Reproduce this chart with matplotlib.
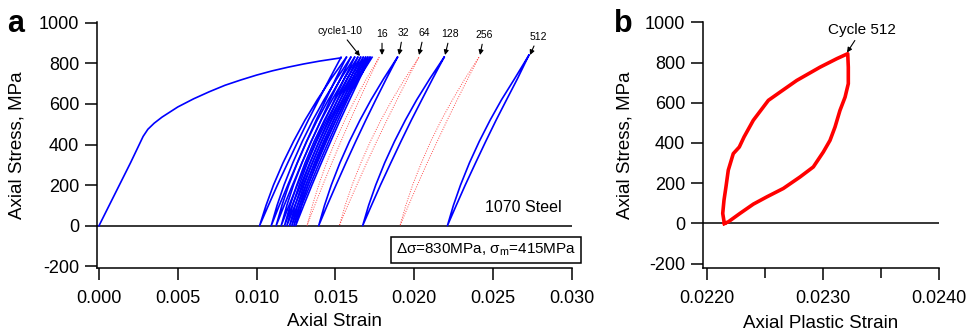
import matplotlib
matplotlib.use("Agg")
import matplotlib.pyplot as plt

plt.rcParams['font.family'] = ['Liberation Sans', 'DejaVu Sans']
plt.rcParams['mathtext.fontset'] = 'custom'
plt.rcParams['mathtext.rm'] = 'Liberation Sans'
plt.rcParams['mathtext.it'] = 'Liberation Sans:italic'
plt.rcParams['axes.unicode_minus'] = False

# ---- panel a data ----
# monotonic first loading
mono_strain = [0.0, 0.0010, 0.0020, 0.0028, 0.0031, 0.0035, 0.0040, 0.0050, 0.0060, 0.0070,
               0.0080, 0.0090, 0.0100, 0.0110, 0.0120, 0.0130, 0.0140, 0.01536]
mono_stress = [0, 155, 310, 440, 475, 505, 535, 585, 625, 660,
               692, 718, 742, 763, 781, 797, 811, 827]

# every loop: unload from peak down to zero, reload back to peak
loop_stress = [830, 725, 620, 520, 415, 310, 200, 100, 0, 100, 200, 310, 415, 520, 620, 725, 830]
loop512_stress = [840, 725, 620, 520, 415, 310, 200, 100, 0, 100, 200, 310, 415, 520, 620, 725, 840]

cycles_1_10 = [
    [0.01536, 0.01464, 0.01394, 0.01328, 0.01262, 0.01198, 0.01132, 0.01075, 0.01019,
     0.01060, 0.01107, 0.01168, 0.01234, 0.01307, 0.01385, 0.01474, 0.01570],
    [0.01570, 0.01503, 0.01439, 0.01378, 0.01317, 0.01258, 0.01198, 0.01144, 0.01093,
     0.01130, 0.01174, 0.01230, 0.01290, 0.01357, 0.01428, 0.01510, 0.01598],
    [0.01598, 0.01532, 0.01467, 0.01408, 0.01347, 0.01288, 0.01228, 0.01175, 0.01124,
     0.01161, 0.01204, 0.01259, 0.01318, 0.01385, 0.01455, 0.01535, 0.01622],
    [0.01622, 0.01557, 0.01494, 0.01435, 0.01375, 0.01317, 0.01258, 0.01206, 0.01156,
     0.01192, 0.01234, 0.01288, 0.01346, 0.01410, 0.01479, 0.01557, 0.01642],
    [0.01642, 0.01577, 0.01514, 0.01455, 0.01396, 0.01338, 0.01279, 0.01227, 0.01177,
     0.01213, 0.01255, 0.01308, 0.01365, 0.01430, 0.01498, 0.01575, 0.01660],
    [0.01660, 0.01595, 0.01531, 0.01472, 0.01412, 0.01354, 0.01295, 0.01243, 0.01192,
     0.01228, 0.01270, 0.01323, 0.01381, 0.01446, 0.01514, 0.01592, 0.01677],
    [0.01677, 0.01612, 0.01548, 0.01489, 0.01429, 0.01371, 0.01312, 0.01260, 0.01209,
     0.01245, 0.01287, 0.01340, 0.01397, 0.01462, 0.01530, 0.01607, 0.01692],
    [0.01692, 0.01626, 0.01563, 0.01504, 0.01443, 0.01385, 0.01326, 0.01274, 0.01223,
     0.01259, 0.01301, 0.01354, 0.01411, 0.01476, 0.01544, 0.01621, 0.01706],
    [0.01706, 0.01640, 0.01576, 0.01517, 0.01457, 0.01398, 0.01339, 0.01287, 0.01236,
     0.01272, 0.01314, 0.01367, 0.01425, 0.01489, 0.01557, 0.01635, 0.01720],
    [0.01720, 0.01654, 0.01590, 0.01530, 0.01470, 0.01411, 0.01351, 0.01299, 0.01248,
     0.01284, 0.01326, 0.01379, 0.01437, 0.01502, 0.01570, 0.01648, 0.01733],
]
cycle32 = [0.01894, 0.01824, 0.01756, 0.01693, 0.01629, 0.01567, 0.01504, 0.01448, 0.01394,
           0.01431, 0.01474, 0.01529, 0.01589, 0.01656, 0.01726, 0.01807, 0.01894]
cycle128 = [0.02190, 0.02118, 0.02048, 0.01982, 0.01916, 0.01852, 0.01786, 0.01729, 0.01673,
            0.01711, 0.01756, 0.01813, 0.01875, 0.01944, 0.02016, 0.02100, 0.02190]
cycle512 = [0.02728, 0.02656, 0.02586, 0.02520, 0.02454, 0.02390, 0.02324, 0.02267, 0.02211,
            0.02249, 0.02294, 0.02351, 0.02413, 0.02482, 0.02554, 0.02638, 0.02728]

# dotted (intermediate) cycles
cycle16 = [0.01778, 0.01714, 0.01652, 0.01594, 0.01535, 0.01478, 0.01420, 0.01369, 0.01320,
           0.01354, 0.01394, 0.01444, 0.01499, 0.01560, 0.01624, 0.01698, 0.01778]
cycle64 = [0.02030, 0.01959, 0.01891, 0.01827, 0.01762, 0.01699, 0.01636, 0.01579, 0.01525,
           0.01562, 0.01606, 0.01662, 0.01722, 0.01789, 0.01860, 0.01942, 0.02030]
cycle256 = [0.02411, 0.02341, 0.02273, 0.02210, 0.02146, 0.02083, 0.02020, 0.01964, 0.01910,
            0.01947, 0.01990, 0.02046, 0.02105, 0.02172, 0.02243, 0.02323, 0.02411]

# arrow labels
cycle_labels = ["cycle1-10", "16", "32", "64", "128", "256", "512"]
label_x = [0.01530, 0.01796, 0.01929, 0.02063, 0.02228, 0.02443, 0.02786]
label_y = [959, 944, 949, 949, 944, 939, 930]
tip_x = [0.01656, 0.01796, 0.01904, 0.02031, 0.02196, 0.02418, 0.02735]
tip_y = [836, 841, 841, 841, 841, 841, 841]

# ---- panel b data: cycle 512 vs plastic strain ----
plastic_strain = [0.022147, 0.022133, 0.022144, 0.022161, 0.022181, 0.022224, 0.022276, 0.022317,
                  0.022397, 0.022527, 0.022628, 0.022772, 0.022973, 0.023117, 0.023212,
                  0.023217, 0.023217, 0.023189, 0.023145, 0.023102, 0.023059, 0.023001,
                  0.022915, 0.022800, 0.022656, 0.022513, 0.022397, 0.022282, 0.022181, 0.022147]
plastic_stress = [0, 50, 116, 182, 265, 347, 380, 430,
                  513, 612, 653, 711, 777, 819, 844,
                  777, 695, 628, 562, 479, 413, 355,
                  281, 231, 174, 132, 96, 50, 8, 0]

blue = '#0000ff'


def style_axes(ax):
    ax.spines['top'].set_visible(False)
    ax.spines['right'].set_visible(False)
    ax.spines['left'].set_linewidth(1.1)
    ax.spines['bottom'].set_linewidth(1.1)
    ax.tick_params(axis='both', direction='out', length=8.5, width=1.1, labelsize=13)
    ax.tick_params(axis='y', pad=4)
    ax.tick_params(axis='x', pad=7)
    ax.axhline(0, color='k', lw=1.1, zorder=1)
    ax.set_yticks([-200, 0, 200, 400, 600, 800, 1000])


fig = plt.figure(figsize=(9.75, 3.31), dpi=100)
axa = fig.add_axes([0.0992, 0.1894, 0.4872, 0.745])
axb = fig.add_axes([0.7207, 0.1894, 0.2424, 0.745])

# ---- panel a ----
style_axes(axa)
axa.plot(mono_strain, mono_stress, color=blue, lw=1.2)
for loop in cycles_1_10:
    axa.plot(loop, loop_stress, color=blue, lw=1.2)
for loop in [cycle16, cycle64, cycle256]:
    axa.plot(loop, loop_stress, color='#ff4d4d', lw=0.7, linestyle=(0, (1, 1.5)))
axa.plot(cycle32, loop_stress, color=blue, lw=1.2)
axa.plot(cycle128, loop_stress, color=blue, lw=1.2)
axa.plot(cycle512, loop512_stress, color=blue, lw=1.2)

axa.set_xlim(-0.000146, 0.030)
axa.set_ylim(-210, 1005)
axa.set_xticks([0.000, 0.005, 0.010, 0.015, 0.020, 0.025, 0.030])
axa.set_xticklabels(["0.000", "0.005", "0.010", "0.015", "0.020", "0.025", "0.030"])
axa.set_xlabel("Axial Strain", fontsize=13.5)
axa.set_ylabel("Axial Stress, MPa", fontsize=13.5)
axa.xaxis.set_label_coords(0.5, -0.181)
axa.yaxis.set_label_coords(-0.149, 0.5)

for txt, lx, ly, tx, ty in zip(cycle_labels, label_x, label_y, tip_x, tip_y):
    axa.annotate(txt, xy=(tx, ty), xytext=(lx, ly), fontsize=7.5, ha='center', va='center',
                 annotation_clip=False,
                 arrowprops=dict(arrowstyle='-|>', color='k', lw=0.8, mutation_scale=7,
                                 shrinkA=1, shrinkB=0))

axa.text(0.0269, 90, "1070 Steel", fontsize=11.5, ha='center', va='center')
axa.text(0.02455, -120, r"Δσ=830MPa, σ$_{\mathrm{m}}$=415MPa", fontsize=11, ha='center', va='center',
         clip_on=False,
         bbox=dict(boxstyle='square,pad=0.3', facecolor='white', edgecolor='k', lw=1.1))

# ---- panel b ----
style_axes(axb)
axb.plot(plastic_strain, plastic_stress, color='#ff0000', lw=2.6, solid_joinstyle='round')
axb.set_xlim(0.021960, 0.0240)
axb.set_ylim(-223, 1003)
axb.set_xticks([0.0220, 0.0230, 0.0240])
axb.set_xticklabels(["0.0220", "0.0230", "0.0240"])
axb.set_xticks([0.0225, 0.0235], minor=True)
axb.tick_params(axis='x', which='minor', direction='out', length=7, width=1.1)
axb.set_xlabel("Axial Plastic Strain", fontsize=13.5)
axb.set_ylabel("Axial Stress, MPa", fontsize=13.5)
axb.xaxis.set_label_coords(0.5, -0.19)
axb.yaxis.set_label_coords(-0.291, 0.5)
axb.annotate("Cycle 512", xy=(0.023206, 850), xytext=(0.023335, 964), fontsize=11,
             ha='center', va='center', annotation_clip=False,
             arrowprops=dict(arrowstyle='-|>', color='k', lw=0.8, mutation_scale=7,
                             shrinkA=1, shrinkB=0))

fig.text(7 / 975, 0.903, "a", fontsize=22, fontweight='bold', va='baseline')
fig.text(614 / 975, 0.903, "b", fontsize=22, fontweight='bold', va='baseline')

fig.savefig("out.png", dpi=100)
